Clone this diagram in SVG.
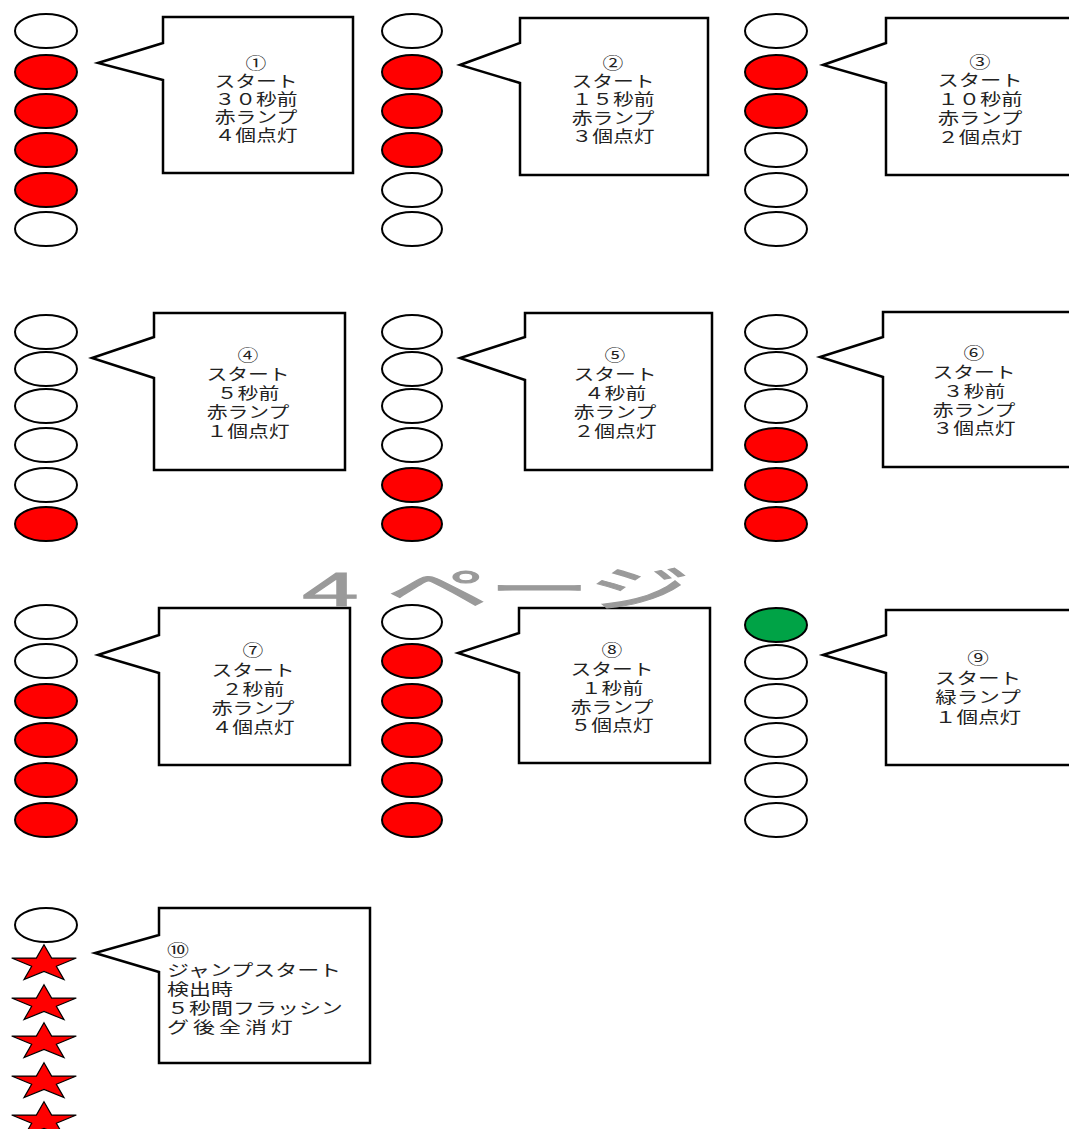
<svg xmlns="http://www.w3.org/2000/svg" xmlns:xlink="http://www.w3.org/1999/xlink" width="1069" height="1129" viewBox="0 0 1069 1129">
<style>
.off{fill:#fff;stroke:#000;stroke-width:2}
.red{fill:#ff0000;stroke:#000;stroke-width:2}
.grn{fill:#00a346;stroke:#000;stroke-width:2}
.star{fill:#ff0000;stroke:#000;stroke-width:1.2;stroke-linejoin:miter}
.box{fill:#fff;stroke:#000;stroke-width:2.5;stroke-linejoin:miter}
.t{font-family:"Liberation Sans","Noto Sans CJK JP","Noto Sans CJK SC",sans-serif;font-size:16px;fill:#222;text-anchor:middle}
.tl{font-family:"Liberation Sans","Noto Sans CJK JP","Noto Sans CJK SC",sans-serif;font-size:16px;fill:#222;text-anchor:start}
.wm{font-family:"Liberation Sans","Noto Sans CJK JP","Noto Sans CJK SC",sans-serif;font-size:48px;fill:#9a9a9a;stroke:#9a9a9a;stroke-width:1}
</style>
<defs>
<path id="st" class="star" d="M0,-19.3 L7.63,-5.96 L32.33,-5.96 L12.34,2.28 L19.99,15.61 L0,7.37 L-19.99,15.61 L-12.34,2.28 L-32.33,-5.96 L-7.63,-5.96 Z"/>
</defs>
<rect width="1069" height="1129" fill="#fff"/>

<g id="connectors"></g>

<g id="panel1">
<ellipse class="off" cx="46" cy="31" rx="31" ry="17"/>
<ellipse class="red" cx="46" cy="72" rx="31" ry="17"/>
<ellipse class="red" cx="46" cy="111" rx="31" ry="17"/>
<ellipse class="red" cx="46" cy="150" rx="31" ry="17"/>
<ellipse class="red" cx="46" cy="190" rx="31" ry="17"/>
<ellipse class="off" cx="46" cy="229" rx="31" ry="17"/>
<path class="box" d="M163,17 H353 V173 H163 V80 L98,63 L163,43 Z"/>
<text class="t" transform="translate(256,0) scale(1.3,1)"><tspan x="0" y="69">①</tspan><tspan x="0" y="87">スタート</tspan><tspan x="0" y="105">３０秒前</tspan><tspan x="0" y="123">赤ランプ</tspan><tspan x="0" y="141">４個点灯</tspan></text>
</g>

<g id="panel2">
<ellipse class="off" cx="412" cy="31" rx="30" ry="17"/>
<ellipse class="red" cx="412" cy="72" rx="30" ry="17"/>
<ellipse class="red" cx="412" cy="111" rx="30" ry="17"/>
<ellipse class="red" cx="412" cy="150" rx="30" ry="17"/>
<ellipse class="off" cx="412" cy="190" rx="30" ry="17"/>
<ellipse class="off" cx="412" cy="229" rx="30" ry="17"/>
<path class="box" d="M520,18 H708 V175 H520 V83 L460,65 L520,43 Z"/>
<text class="t" transform="translate(613,0) scale(1.3,1)"><tspan x="0" y="69">②</tspan><tspan x="0" y="87">スタート</tspan><tspan x="0" y="105">１５秒前</tspan><tspan x="0" y="124">赤ランプ</tspan><tspan x="0" y="142">３個点灯</tspan></text>
</g>

<g id="panel3">
<ellipse class="off" cx="776" cy="31" rx="31" ry="17"/>
<ellipse class="red" cx="776" cy="72" rx="31" ry="17"/>
<ellipse class="red" cx="776" cy="111" rx="31" ry="17"/>
<ellipse class="off" cx="776" cy="150" rx="31" ry="17"/>
<ellipse class="off" cx="776" cy="190" rx="31" ry="17"/>
<ellipse class="off" cx="776" cy="229" rx="31" ry="17"/>
<path class="box" d="M886,18 H1075 V175 H886 V83 L823,65 L886,43 Z"/>
<text class="t" transform="translate(980,0) scale(1.33,1)"><tspan x="0" y="68">③</tspan><tspan x="0" y="86">スタート</tspan><tspan x="0" y="105">１０秒前</tspan><tspan x="0" y="124">赤ランプ</tspan><tspan x="0" y="143">２個点灯</tspan></text>
</g>

<g id="panel4">
<ellipse class="off" cx="46" cy="332" rx="31" ry="17"/>
<ellipse class="off" cx="46" cy="369" rx="31" ry="17"/>
<ellipse class="off" cx="46" cy="406" rx="31" ry="17"/>
<ellipse class="off" cx="46" cy="445" rx="31" ry="17"/>
<ellipse class="off" cx="46" cy="485" rx="31" ry="17"/>
<ellipse class="red" cx="46" cy="524" rx="31" ry="17"/>
<path class="box" d="M154,313 H345 V470 H154 V378 L92,358 L154,337 Z"/>
<text class="t" transform="translate(248,0) scale(1.3,1)"><tspan x="0" y="361">④</tspan><tspan x="0" y="380">スタート</tspan><tspan x="0" y="399">５秒前</tspan><tspan x="0" y="418">赤ランプ</tspan><tspan x="0" y="437">１個点灯</tspan></text>
</g>

<g id="panel5">
<ellipse class="off" cx="412" cy="332" rx="30" ry="17"/>
<ellipse class="off" cx="412" cy="369" rx="30" ry="17"/>
<ellipse class="off" cx="412" cy="406" rx="30" ry="17"/>
<ellipse class="off" cx="412" cy="445" rx="30" ry="17"/>
<ellipse class="red" cx="412" cy="485" rx="30" ry="17"/>
<ellipse class="red" cx="412" cy="524" rx="30" ry="17"/>
<path class="box" d="M525,313 H712 V470 H525 V380 L460,358 L525,337 Z"/>
<text class="t" transform="translate(615,0) scale(1.3,1)"><tspan x="0" y="361">⑤</tspan><tspan x="0" y="380">スタート</tspan><tspan x="0" y="399">４秒前</tspan><tspan x="0" y="418">赤ランプ</tspan><tspan x="0" y="437">２個点灯</tspan></text>
</g>

<g id="panel6">
<ellipse class="off" cx="776" cy="332" rx="31" ry="17"/>
<ellipse class="off" cx="776" cy="369" rx="31" ry="17"/>
<ellipse class="off" cx="776" cy="406" rx="31" ry="17"/>
<ellipse class="red" cx="776" cy="445" rx="31" ry="17"/>
<ellipse class="red" cx="776" cy="485" rx="31" ry="17"/>
<ellipse class="red" cx="776" cy="524" rx="31" ry="17"/>
<path class="box" d="M883,312 H1075 V467 H883 V377 L820,357 L883,337 Z"/>
<text class="t" transform="translate(974,0) scale(1.3,1)"><tspan x="0" y="359">⑥</tspan><tspan x="0" y="378">スタート</tspan><tspan x="0" y="397">３秒前</tspan><tspan x="0" y="416">赤ランプ</tspan><tspan x="0" y="434">３個点灯</tspan></text>
</g>

<g id="panel7">
<ellipse class="off" cx="46" cy="622" rx="31" ry="17"/>
<ellipse class="off" cx="46" cy="661" rx="31" ry="17"/>
<ellipse class="red" cx="46" cy="701" rx="31" ry="17"/>
<ellipse class="red" cx="46" cy="740" rx="31" ry="17"/>
<ellipse class="red" cx="46" cy="780" rx="31" ry="17"/>
<ellipse class="red" cx="46" cy="820" rx="31" ry="17"/>
<path class="box" d="M159,608 H350 V765 H159 V673 L98,655 L159,635 Z"/>
<text class="t" transform="translate(253,0) scale(1.3,1)"><tspan x="0" y="656">⑦</tspan><tspan x="0" y="676">スタート</tspan><tspan x="0" y="695">２秒前</tspan><tspan x="0" y="714">赤ランプ</tspan><tspan x="0" y="733">４個点灯</tspan></text>
</g>

<g id="panel8">
<ellipse class="off" cx="412" cy="622" rx="30" ry="17"/>
<ellipse class="red" cx="412" cy="661" rx="30" ry="17"/>
<ellipse class="red" cx="412" cy="701" rx="30" ry="17"/>
<ellipse class="red" cx="412" cy="740" rx="30" ry="17"/>
<ellipse class="red" cx="412" cy="780" rx="30" ry="17"/>
<ellipse class="red" cx="412" cy="820" rx="30" ry="17"/>
<path class="box" d="M519,608 H710 V763 H519 V673 L458,653 L519,633 Z"/>
<text class="t" transform="translate(612,0) scale(1.3,1)"><tspan x="0" y="656">⑧</tspan><tspan x="0" y="675">スタート</tspan><tspan x="0" y="694">１秒前</tspan><tspan x="0" y="713">赤ランプ</tspan><tspan x="0" y="731">５個点灯</tspan></text>
</g>

<g id="panel9">
<ellipse class="grn" cx="776" cy="625" rx="31" ry="17"/>
<ellipse class="off" cx="776" cy="662" rx="31" ry="17"/>
<ellipse class="off" cx="776" cy="701" rx="31" ry="17"/>
<ellipse class="off" cx="776" cy="740" rx="31" ry="17"/>
<ellipse class="off" cx="776" cy="780" rx="31" ry="17"/>
<ellipse class="off" cx="776" cy="820" rx="31" ry="17"/>
<path class="box" d="M886,610 H1075 V765 H886 V673 L823,655 L886,635 Z"/>
<text class="t" transform="translate(978,0) scale(1.35,1)"><tspan x="0" y="664">⑨</tspan><tspan x="0" y="684">スタート</tspan><tspan x="0" y="703">緑ランプ</tspan><tspan x="0" y="723">１個点灯</tspan></text>
</g>

<g id="panel10">
<ellipse class="off" cx="46" cy="925" rx="31" ry="17"/>
<use xlink:href="#st" href="#st" x="44" y="964"/>
<use xlink:href="#st" href="#st" x="44" y="1004"/>
<use xlink:href="#st" href="#st" x="44" y="1042"/>
<use xlink:href="#st" href="#st" x="44" y="1082"/>
<use xlink:href="#st" href="#st" x="44" y="1121"/>
<path class="box" d="M159,908 H370 V1063 H159 V972 L95,953 L159,935 Z"/>
<text class="tl" transform="translate(167,0) scale(1.375,1)"><tspan x="0" y="956">⑩</tspan><tspan x="0" y="976">ジャンプスタート</tspan><tspan x="0" y="995">検出時</tspan><tspan x="0" y="1014">５秒間フラッシン</tspan><tspan x="0" y="1033" letter-spacing="2.9">グ後全消灯</tspan></text>
</g>

<g id="watermark">
<text class="wm" x="302" y="606" textLength="388" lengthAdjust="spacingAndGlyphs">4 ページ</text>
</g>
</svg>
